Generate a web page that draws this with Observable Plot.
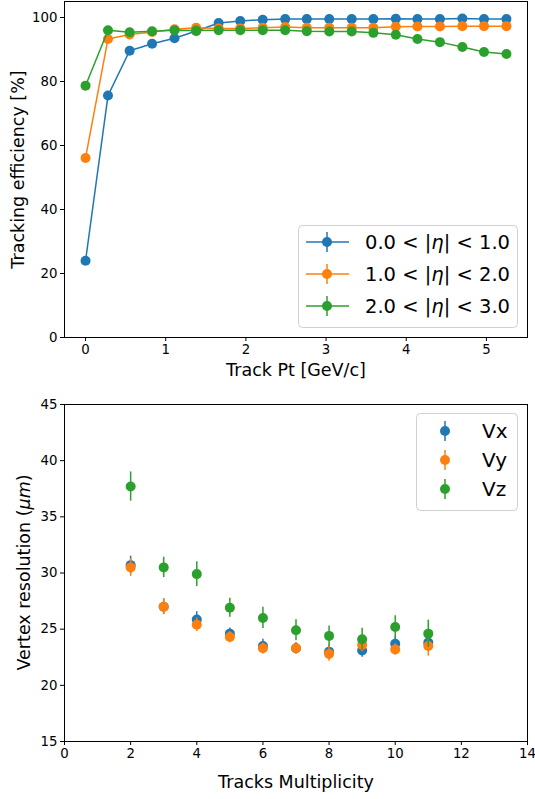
<!DOCTYPE html>
<html><head><meta charset="utf-8">
<script src="https://cdn.jsdelivr.net/npm/d3@7"></script>
<script src="https://cdn.jsdelivr.net/npm/@observablehq/plot@0.6"></script>
<style>
body{margin:0;background:#fff;font-family:"DejaVu Sans",sans-serif;}
#wrap{position:relative;width:535px;height:799px;overflow:hidden;}
#wrap svg{display:block;}
#overlay{position:absolute;left:0;top:0;pointer-events:none;}
</style></head><body><div id="wrap"></div>
<script>
// ---- Top chart: tracking efficiency vs track Pt ----
const pt = [0, 0.28, 0.55, 0.83, 1.11, 1.38, 1.66, 1.93, 2.21, 2.49, 2.76, 3.04, 3.32, 3.59, 3.87, 4.14, 4.42, 4.70, 4.97, 5.25];
const effEta1 = [24.0, 75.6, 89.6, 91.8, 93.5, 95.8, 98.3, 98.9, 99.3, 99.5, 99.5, 99.5, 99.5, 99.5, 99.6, 99.5, 99.5, 99.7, 99.5, 99.5];
const effEta2 = [56.1, 93.3, 94.7, 95.5, 96.3, 96.8, 96.6, 96.6, 96.8, 97.0, 96.8, 96.8, 96.8, 96.8, 97.1, 97.2, 97.2, 97.3, 97.3, 97.3];
const effEta3 = [78.7, 96.0, 95.4, 95.7, 96.0, 95.9, 96.0, 96.0, 96.0, 96.0, 95.7, 95.6, 95.6, 95.2, 94.6, 93.3, 92.3, 90.8, 89.2, 88.6];
const etaLabels = [["0.0 < |", "η", "| < 1.0"], ["1.0 < |", "η", "| < 2.0"], ["2.0 < |", "η", "| < 3.0"]];

// ---- Bottom chart: vertex resolution vs tracks multiplicity ----
const mult = [2, 3, 4, 5, 6, 7, 8, 9, 10, 11];
const vx = [30.7, 27.0, 25.85, 24.6, 23.5, 23.3, 23.0, 23.1, 23.7, 23.8];
const vxErr = [0.8, 0.7, 0.7, 0.5, 0.6, 0.5, 0.6, 0.6, 0.6, 0.7];
const vy = [30.5, 27.0, 25.4, 24.3, 23.3, 23.3, 22.8, 23.6, 23.2, 23.5];
const vyErr = [0.8, 0.7, 0.6, 0.5, 0.5, 0.5, 0.65, 0.6, 0.5, 0.9];
const vz = [37.7, 30.5, 29.9, 26.9, 26.0, 24.9, 24.4, 24.1, 25.2, 24.6];
const vzErr = [1.3, 0.9, 1.1, 0.85, 0.95, 0.93, 0.88, 0.98, 1.0, 1.2];
const vLabels = ["Vx", "Vy", "Vz"];

const colors = ["#1f77b4", "#ff7f0e", "#2ca02c"];
const font = "DejaVu Sans";

const effSeries = [effEta1, effEta2, effEta3].map((arr, k) =>
  pt.map((p, i) => ({pt: p, eff: arr[i], k})));

const resSeries = [[vx, vxErr], [vy, vyErr], [vz, vzErr]].map(([v, e], k) =>
  mult.map((m, i) => ({m, v: v[i], lo: v[i] - e[i], hi: v[i] + e[i], k})));

const wrap = document.getElementById("wrap");
const fmt = d3.format("d");

const topPlot = Plot.plot({
  width: 535, height: 392,
  marginTop: 1, marginLeft: 64, marginRight: 8, marginBottom: 55,
  style: {fontFamily: font, fontSize: "13.3px", color: "black", background: "white", overflow: "visible"},
  x: {domain: [-0.2625, 5.5125], ticks: [0, 1, 2, 3, 4, 5], tickFormat: fmt, tickSize: 4, tickPadding: 3, label: null},
  y: {domain: [0, 105], ticks: [0, 20, 40, 60, 80, 100], tickFormat: fmt, tickSize: 4, tickPadding: 3, label: null},
  marks: [
    ...effSeries.flatMap((s, k) => [
      Plot.line(s, {x: "pt", y: "eff", stroke: colors[k], strokeWidth: 1.5}),
      Plot.dot(s, {x: "pt", y: "eff", r: 5, fill: colors[k], stroke: "none"})
    ]),
    Plot.frame({stroke: "black", strokeWidth: 1}),
    Plot.text(["Track Pt [GeV/c]"], {text: d => d, frameAnchor: "bottom", dy: 33, lineAnchor: "middle", textAnchor: "middle", fontSize: 17.5, fill: "black"}),
    Plot.text(["Tracking efficiency [%]"], {text: d => d, frameAnchor: "left", dx: -46, rotate: -90, lineAnchor: "middle", textAnchor: "middle", fontSize: 17.5, fill: "black"})
  ]
});
wrap.appendChild(topPlot);

const botPlot = Plot.plot({
  width: 535, height: 407,
  marginTop: 12, marginLeft: 64, marginRight: 8, marginBottom: 58,
  style: {fontFamily: font, fontSize: "13.3px", color: "black", background: "white", overflow: "visible"},
  x: {domain: [0, 14], ticks: [0, 2, 4, 6, 8, 10, 12, 14], tickFormat: fmt, tickSize: 4, tickPadding: 3, label: null},
  y: {domain: [15, 45], ticks: [15, 20, 25, 30, 35, 40, 45], tickFormat: fmt, tickSize: 4, tickPadding: 3, label: null},
  marks: [
    ...resSeries.flatMap((s, k) => [
      Plot.ruleX(s, {x: "m", y1: "lo", y2: "hi", stroke: colors[k], strokeWidth: 1.5}),
      Plot.dot(s, {x: "m", y: "v", r: 5, fill: colors[k], stroke: "none"})
    ]),
    Plot.frame({stroke: "black", strokeWidth: 1}),
    Plot.text(["Tracks Multiplicity"], {text: d => d, frameAnchor: "bottom", dy: 41, lineAnchor: "middle", textAnchor: "middle", fontSize: 17.5, fill: "black"})
  ]
});
wrap.appendChild(botPlot);

// y label of bottom chart with italic μm
{
  const s = d3.select(botPlot);
  const t = s.append("text")
    .attr("transform", `translate(25,${12 + 337 / 2}) rotate(-90)`)
    .attr("text-anchor", "middle").attr("dominant-baseline", "middle")
    .attr("font-family", font).attr("font-size", 17.5).attr("fill", "black");
  t.append("tspan").text("Vertex resolution (");
  t.append("tspan").attr("font-style", "italic").text("μm");
  t.append("tspan").text(")");
}

// Legends overlay
const ov = d3.select(wrap).append("svg").attr("id", "overlay").attr("width", 535).attr("height", 799);

// top legend
{
  const g = ov.append("g");
  g.append("rect").attr("x", 298.5).attr("y", 225.5).attr("width", 219).attr("height", 102)
    .attr("rx", 4).attr("fill", "white").attr("fill-opacity", 0.8).attr("stroke", "#d0d0d0");
  const rows = [242, 274, 306];
  etaLabels.forEach((lab, k) => {
    const y = rows[k];
    g.append("line").attr("x1", 306).attr("x2", 349).attr("y1", y).attr("y2", y).attr("stroke", colors[k]).attr("stroke-width", 1.5);
    g.append("line").attr("x1", 327).attr("x2", 327).attr("y1", y - 10).attr("y2", y + 10).attr("stroke", colors[k]).attr("stroke-width", 1.5);
    g.append("circle").attr("cx", 327).attr("cy", y).attr("r", 5).attr("fill", colors[k]);
    const t = g.append("text").attr("x", 365).attr("y", y).attr("dominant-baseline", "central")
      .attr("font-family", font).attr("font-size", 19.5).attr("fill", "black");
    t.append("tspan").text(lab[0]);
    t.append("tspan").attr("font-style", "italic").text(lab[1]);
    t.append("tspan").text(lab[2]);
  });
}
// bottom legend
{
  const g = ov.append("g");
  g.append("rect").attr("x", 416.5).attr("y", 413.5).attr("width", 101).attr("height", 97)
    .attr("rx", 4).attr("fill", "white").attr("fill-opacity", 0.8).attr("stroke", "#d0d0d0");
  const rows = [431, 460, 489];
  vLabels.forEach((lab, k) => {
    const y = rows[k];
    g.append("line").attr("x1", 445).attr("x2", 445).attr("y1", y - 10).attr("y2", y + 10).attr("stroke", colors[k]).attr("stroke-width", 1.5);
    g.append("circle").attr("cx", 445).attr("cy", y).attr("r", 5).attr("fill", colors[k]);
    g.append("text").attr("x", 482).attr("y", y).attr("dominant-baseline", "central")
      .attr("font-family", font).attr("font-size", 20).attr("fill", "black").text(lab);
  });
}
</script>
</body></html>
